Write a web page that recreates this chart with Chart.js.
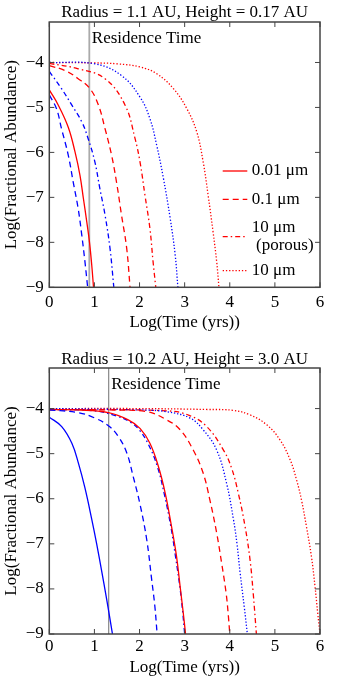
<!DOCTYPE html>
<html>
<head>
<meta charset="utf-8">
<script src="https://cdn.jsdelivr.net/npm/chart.js@4/dist/chart.umd.min.js"></script>
<style>
  html, body { margin: 0; padding: 0; background: #fff; }
  #wrap { position: relative; width: 360px; height: 683px; }
  canvas { position: absolute; left: 0; }
  #top { top: 0; }
  #bottom { top: 340px; }
</style>
</head>
<body>
<div id="wrap">
  <canvas id="top" width="360" height="340"></canvas>
  <canvas id="bottom" width="360" height="343"></canvas>
</div>
<script>
// axis ticks
const xTicks = [0, 1, 2, 3, 4, 5, 6];
const yTicks = [-9, -8, -7, -6, -5, -4];

// titles and labels
const topTitle = 'Radius = 1.1 AU, Height = 0.17 AU';
const bottomTitle = 'Radius = 10.2 AU, Height = 3.0 AU';
const legendLabels = ['0.01 \u03bcm', '0.1 \u03bcm', ['10 \u03bcm', ' (porous)'], '10 \u03bcm'];

// residence time, log(yrs)
const topResidence = 0.887;
const bottomResidence = 1.316;

// top panel curves: [log t, log abundance]
const topSolidRed = [[0,-4.61],[0.2,-4.95],[0.42,-5.44],[0.57,-5.99],[0.68,-6.51],[0.755,-7.02],[0.83,-7.54],[0.89,-7.99],[0.94,-8.5],[0.98,-9]];
const topDashBlue = [[0,-4.72],[0.16,-5.03],[0.27,-5.47],[0.42,-6.06],[0.53,-6.66],[0.64,-7.25],[0.72,-7.84],[0.79,-8.43],[0.85,-9]];
const topDashDotBlue = [[0,-4.2],[0.27,-4.58],[0.5,-4.95],[0.72,-5.32],[0.86,-5.69],[1.01,-6.21],[1.12,-6.8],[1.235,-7.39],[1.345,-8.13],[1.43,-9]];
const topDashRed = [[0,-4.07],[0.35,-4.18],[0.64,-4.36],[0.9,-4.58],[1.09,-4.95],[1.235,-5.47],[1.38,-6.06],[1.49,-6.66],[1.6,-7.39],[1.715,-8.13],[1.79,-9]];
const topDashDotRed = [[0,-4.02],[0.64,-4.14],[1.235,-4.36],[1.68,-4.95],[1.9,-5.69],[2.01,-6.21],[2.12,-6.95],[2.23,-7.69],[2.3,-8.43],[2.36,-9]];
const topDotBlue = [[0,-4.0],[1.01,-4.03],[1.6,-4.29],[2.01,-4.77],[2.23,-5.25],[2.38,-5.84],[2.53,-6.58],[2.68,-7.47],[2.79,-8.28],[2.85,-9]];
const topDotRed = [[0,-4.0],[1.0,-4.01],[1.5,-4.03],[2.01,-4.1],[2.38,-4.25],[2.75,-4.58],[3.05,-5.03],[3.27,-5.55],[3.41,-6.21],[3.52,-6.95],[3.63,-7.77],[3.71,-8.43],[3.76,-9]];

// bottom panel curves
const botSolidBlue = [[0,-4.19],[0.275,-4.4],[0.5,-4.77],[0.645,-5.21],[0.79,-5.76],[0.94,-6.45],[1.05,-7.0],[1.16,-7.6],[1.27,-8.22],[1.4,-9]];
const botDashBlue = [[0,-4.03],[0.645,-4.09],[1.01,-4.21],[1.31,-4.38],[1.53,-4.62],[1.72,-4.99],[1.86,-5.51],[2.01,-6.12],[2.16,-6.91],[2.27,-7.8],[2.34,-8.39],[2.39,-9]];
const botSolidRed = [[0,-4.02],[0.645,-4.03],[1.31,-4.09],[1.75,-4.25],[2.01,-4.44],[2.23,-4.77],[2.42,-5.29],[2.57,-5.88],[2.71,-6.62],[2.82,-7.28],[2.9,-7.95],[2.97,-8.54],[3.02,-9]];
const botDashDotBlue = [[0,-4.02],[1.0,-4.05],[1.5,-4.17],[1.8,-4.3],[2.0,-4.48],[2.2,-4.8],[2.4,-5.3],[2.55,-5.9],[2.7,-6.65],[2.8,-7.3],[2.9,-8.0],[2.96,-8.55],[3.0,-9]];
const botDashRed = [[0,-4.02],[1.3,-4.03],[2.16,-4.07],[2.6,-4.25],[2.9,-4.47],[3.19,-4.92],[3.41,-5.43],[3.56,-6.03],[3.71,-6.76],[3.82,-7.43],[3.92,-8.1],[3.97,-8.61],[4.0,-9]];
const botDotBlue = [[0,-4.0],[2.0,-4.03],[2.6,-4.07],[3.12,-4.21],[3.41,-4.47],[3.71,-4.92],[3.93,-5.66],[4.08,-6.45],[4.16,-7.0],[4.23,-7.65],[4.32,-8.39],[4.39,-9]];
const botDashDotRed = [[0,-4.02],[2.6,-4.05],[3.1,-4.15],[3.49,-4.4],[3.86,-4.92],[4.04,-5.32],[4.19,-5.88],[4.34,-6.62],[4.45,-7.36],[4.52,-8.1],[4.59,-9]];
const botDotRed = [[0,-4.0],[2.0,-4.0],[3.5,-4.02],[4.08,-4.04],[4.45,-4.14],[4.82,-4.36],[5.11,-4.69],[5.34,-5.14],[5.48,-5.58],[5.59,-6.03],[5.7,-6.62],[5.81,-7.28],[5.89,-7.95],[5.95,-8.54],[6.0,-9]];

const RED = '#ff0000';
const BLUE = '#0000ff';
const SOLID = [];
const DASH = [6, 4];
const DASHDOT = [5, 3, 1.5, 3];
const DOT = [1.3, 1.9];
const FONT_FAMILY = "'Liberation Serif', 'Times New Roman', serif";
const Y_MAX = -3.1;

function curve(pts, color, dash){
    return {
        data: pts.map(p => ({ x: p[0], y: p[1] })),
        borderColor: color,
        borderDash: dash,
        borderWidth: 1.3,
        pointRadius: 0,
        showLine: true,
        fill: false,
        tension: 0.4
    };
}

function residence(x, color, width){
    return {
        data: [{ x: x, y: -9 }, { x: x, y: Y_MAX }],
        borderColor: color,
        borderWidth: width,
        pointRadius: 0,
        showLine: true,
        tension: 0
    };
}

// draws the box, inward ticks, title, residence label and (optionally) legend
function decorations(title, titleY, resX, showLegend){
    return {
        id: 'decor',
        afterDraw(chart){
            const { ctx, chartArea: a, scales: { x, y } } = chart;
            ctx.save();
            ctx.strokeStyle = '#444';
            ctx.lineWidth = 1;
            ctx.beginPath();
            xTicks.forEach(v => {
                const px = x.getPixelForValue(v);
                ctx.moveTo(px, a.bottom); ctx.lineTo(px, a.bottom - 5);
                ctx.moveTo(px, a.top); ctx.lineTo(px, a.top + 5);
            });
            yTicks.forEach(v => {
                const py = y.getPixelForValue(v);
                ctx.moveTo(a.left, py); ctx.lineTo(a.left + 5, py);
                ctx.moveTo(a.right, py); ctx.lineTo(a.right - 5, py);
            });
            ctx.stroke();
            ctx.lineWidth = 1.5;
            ctx.strokeRect(a.left, a.top, a.right - a.left, a.bottom - a.top);

            ctx.fillStyle = '#000';
            ctx.font = '17px ' + FONT_FAMILY;
            ctx.textBaseline = 'middle';
            ctx.textAlign = 'center';
            ctx.fillText(title, (a.left + a.right) / 2, titleY);

            ctx.textAlign = 'left';
            ctx.fillText('Residence Time', x.getPixelForValue(resX) + 2.5, a.top + 17);

            if(showLegend){
                const styles = [SOLID, DASH, DASHDOT, DOT];
                const rows = [149, 177.3, 214.7, 248.7];
                const x0 = a.left + 173.4, x1 = a.left + 198, tx = a.left + 202.5;
                styles.forEach((d, i) => {
                    const ly = a.top + rows[i];
                    ctx.beginPath();
                    ctx.setLineDash(d);
                    ctx.strokeStyle = RED;
                    ctx.lineWidth = 1.3;
                    ctx.moveTo(x0, ly); ctx.lineTo(x1, ly);
                    ctx.stroke();
                    ctx.setLineDash([]);
                    const lab = legendLabels[i];
                    if(Array.isArray(lab)){
                        ctx.fillText(lab[0], tx, ly - 9);
                        ctx.fillText(lab[1], tx, ly + 9);
                    } else {
                        ctx.fillText(lab, tx, ly);
                    }
                });
            }
            ctx.restore();
        }
    };
}

function makeChart(id, datasets, opts){
    const font = { family: FONT_FAMILY, size: 17 };
    return new Chart(document.getElementById(id), {
        type: 'scatter',
        data: { datasets },
        options: {
            responsive: false,
            animation: false,
            devicePixelRatio: 1,
            layout: { padding: { top: opts.top, right: 40, left: 0, bottom: 0 } },
            plugins: { legend: { display: false }, tooltip: { enabled: false }, title: { display: false } },
            scales: {
                x: {
                    type: 'linear', min: 0, max: 6,
                    afterBuildTicks: s => { s.ticks = xTicks.map(v => ({ value: v })); },
                    ticks: { font, color: '#000', padding: opts.xPad, maxRotation: 0, autoSkip: false },
                    grid: { display: false, drawTicks: false },
                    border: { display: false },
                    title: { display: true, text: 'Log(Time (yrs))', font, color: '#000', padding: { top: 0, bottom: opts.xTitlePad } },
                    afterFit: s => { s.height = opts.xHeight; }
                },
                y: {
                    type: 'linear', min: -9, max: Y_MAX,
                    afterBuildTicks: s => { s.ticks = yTicks.map(v => ({ value: v })); },
                    ticks: { font, color: '#000', padding: 5.5, autoSkip: false, callback: v => '\u2212' + Math.abs(v) },
                    grid: { display: false, drawTicks: false },
                    border: { display: false },
                    title: { display: true, text: 'Log(Fractional Abundance)', font, color: '#000', padding: { top: 1, bottom: 0 } },
                    afterFit: s => { s.width = 49.3; }
                }
            }
        },
        plugins: [decorations(opts.title, opts.titleY, opts.res, opts.legend)]
    });
}

makeChart('top', [
    curve(topSolidRed, RED, SOLID),
    curve(topDashBlue, BLUE, DASH),
    curve(topDashDotBlue, BLUE, DASHDOT),
    curve(topDashRed, RED, DASH),
    curve(topDashDotRed, RED, DASHDOT),
    curve(topDotBlue, BLUE, DOT),
    curve(topDotRed, RED, DOT),
    residence(topResidence, '#aaa', 1.8)
], { top: 22, xHeight: 52.7, xPad: 5, xTitlePad: 6.8, title: topTitle, titleY: 13, res: topResidence, legend: true });

makeChart('bottom', [
    curve(botSolidBlue, BLUE, SOLID),
    curve(botDashBlue, BLUE, DASH),
    curve(botSolidRed, RED, SOLID),
    curve(botDashDotBlue, BLUE, DASHDOT),
    curve(botDashRed, RED, DASH),
    curve(botDotBlue, BLUE, DOT),
    curve(botDashDotRed, RED, DASHDOT),
    curve(botDotRed, RED, DOT),
    residence(bottomResidence, '#888', 1.2)
], { top: 28, xHeight: 49, xPad: 2, xTitlePad: 4.8, title: bottomTitle, titleY: 20, res: bottomResidence, legend: false });
</script>
</body>
</html>
